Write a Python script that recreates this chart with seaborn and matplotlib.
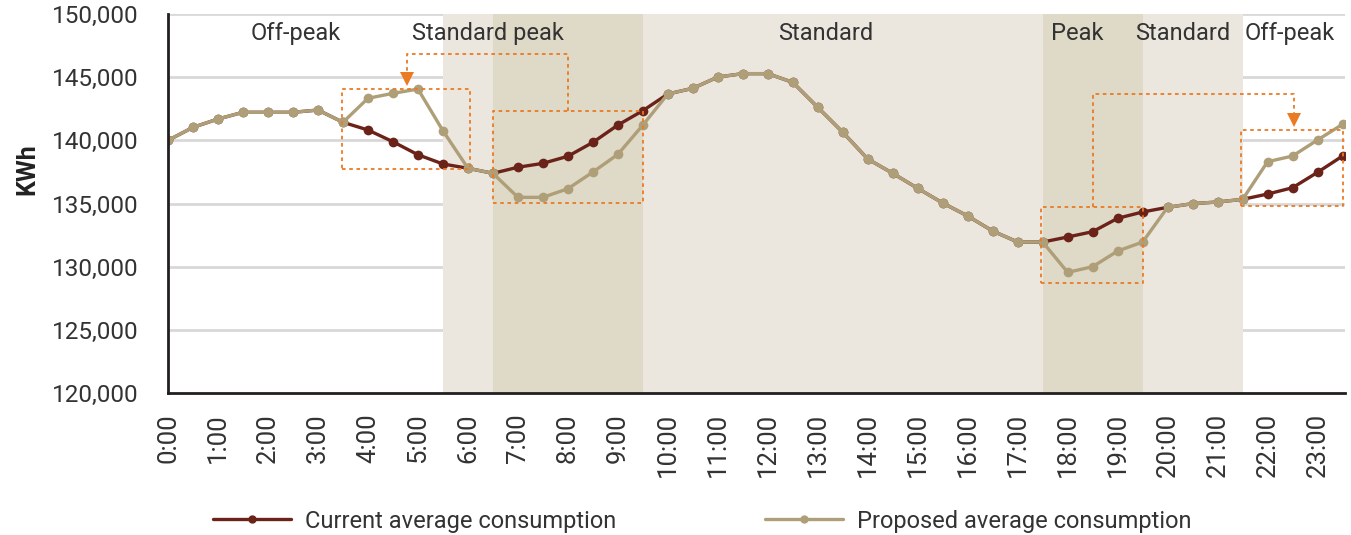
import numpy as np
import pandas as pd
import matplotlib
matplotlib.use("Agg")
import matplotlib.pyplot as plt
import seaborn as sns

# ---------- data ----------
hour_labels = ["0:00", "1:00", "2:00", "3:00", "4:00", "5:00", "6:00", "7:00",
               "8:00", "9:00", "10:00", "11:00", "12:00", "13:00", "14:00", "15:00",
               "16:00", "17:00", "18:00", "19:00", "20:00", "21:00", "22:00", "23:00"]

current = [140000, 141030, 141690, 142220, 142220, 142220, 142400, 141430,
           140820, 139890, 138860, 138130, 137790, 137390, 137870, 138180,
           138740, 139840, 141210, 142350, 143670, 144120, 145010, 145280,
           145280, 144590, 142610, 140640, 138520, 137390, 136200, 135040,
           134010, 132820, 131950, 131950, 132350, 132770, 133830, 134330,
           134700, 134990, 135120, 135330, 135750, 136250, 137470, 138760]

proposed = [140000, 141030, 141690, 142220, 142220, 142220, 142400, 141430,
            143330, 143720, 144060, 140760, 137790, 137390, 135490, 135490,
            136170, 137490, 138890, 141210, 143670, 144120, 145010, 145280,
            145280, 144590, 142610, 140640, 138520, 137390, 136200, 135040,
            134010, 132820, 131950, 131950, 129550, 130000, 131240, 131950,
            134700, 134990, 135120, 135330, 138310, 138760, 140030, 141270]

# tariff periods (slot index, half-hour units)
period_names = ["Off-peak", "Standard peak", "Standard", "Peak", "Standard", "Off-peak"]
period_label_x = [5.1, 12.8, 26.3, 36.4, 40.6, 44.9]
standard_span = (11, 43)
peak_spans = [(13, 19), (35, 39)]

# shifted-load boxes (x0, x1, y0, y1) and connectors
boxes = [(6.95, 12.1, 137730, 144060),
         (13.0, 19.0, 135020, 142320),
         (34.95, 39.0, 128690, 134700),
         (42.95, 47.0, 134800, 140820)]
connectors = [([16.0, 16.0, 9.55, 9.55], [142320, 146830, 146830, 145330]),
              ([37.0, 37.0, 45.05, 45.05], [134700, 143670, 143670, 142000])]
arrow_tips = [(9.55, 144890), (45.05, 141580)]

CUR_COLOR = "#6b2219"
PROP_COLOR = "#ae9f78"
ORANGE = "#ea7a24"
TEXT = "#333333"

# ---------- style ----------
sns.set_theme(style="white")
plt.rcParams["font.family"] = ["Roboto", "DejaVu Sans"]

n = len(current)
df = pd.DataFrame({
    "slot": list(range(n)) * 2,
    "kwh": current + proposed,
    "series": ["Current average consumption"] * n + ["Proposed average consumption"] * n,
})

fig = plt.figure(figsize=(13.51, 5.35), dpi=100)
ax = fig.add_axes([0.1244, 0.2654, 0.8712, 0.7084])

# background bands
ax.axvspan(*standard_span, color="#ebe7df", zorder=1, lw=0)
for a, b in peak_spans:
    ax.axvspan(a, b, color="#dfd9c7", zorder=1.1, lw=0)

for y in range(125000, 150001, 5000):
    ax.axhline(y, color="#d8d8d8", lw=2, zorder=0.5)

sns.lineplot(data=df, x="slot", y="kwh", hue="series",
             palette=[CUR_COLOR, PROP_COLOR], marker="o", markersize=7,
             markeredgewidth=0, linewidth=2.4, ax=ax, legend=False, zorder=3)

# orange dotted boxes + connectors
for x0, x1, y0, y1 in boxes:
    ax.plot([x0, x1, x1, x0, x0], [y0, y0, y1, y1, y0], color=ORANGE,
            lw=1.3, ls=(0, (2, 2)), zorder=4)
for xs, ys in connectors:
    ax.plot(xs, ys, color=ORANGE, lw=1.3, ls=(0, (2, 2)), zorder=4)
for x, y in arrow_tips:
    ax.plot([x], [y], marker="v", color=ORANGE, markersize=10, mew=0, zorder=5)

for name, x in zip(period_names, period_label_x):
    ax.text(x, 148450, name, ha="center", va="center", fontsize=17,
            color=TEXT, zorder=5)

ax.set_xlim(0, 47.1)
ax.set_ylim(120000, 150000)
ax.set_yticks(range(120000, 150001, 5000))
ax.set_yticklabels([f"{v:,}" for v in range(120000, 150001, 5000)])
ax.set_xticks(range(0, 48, 2))
ax.set_xticklabels(hour_labels, rotation=90)
ax.set_xticks(range(1, 48, 2), minor=True)
ax.tick_params(axis="both", which="both", direction="out", color="#231f20",
               width=1.5, length=6.5, labelcolor=TEXT)
ax.tick_params(axis="x", pad=8, labelsize=18.5)
ax.tick_params(axis="y", pad=15, labelsize=17.5)
ax.set_xlabel("")
ax.set_ylabel("")

for s in ["top", "right"]:
    ax.spines[s].set_visible(False)
for s in ["left", "bottom"]:
    ax.spines[s].set_color("#231f20")
    ax.spines[s].set_linewidth(2)
    ax.spines[s].set_zorder(6)

fig.text(27 / 1351, 1 - 169 / 535, "KWh", rotation=90, ha="center", va="center",
         fontsize=18, fontweight="bold", color="#222222")

handles = [plt.Line2D([], [], color=CUR_COLOR, lw=2.4, marker="o", markersize=5),
           plt.Line2D([], [], color=PROP_COLOR, lw=2.4, marker="o", markersize=5)]
fig.legend(handles, ["Current average consumption", "Proposed average consumption"],
           loc="center", bbox_to_anchor=(0.52, 0.026), ncol=2, frameon=False,
           fontsize=17, handlelength=3.3, columnspacing=6.3, handletextpad=0.6,
           labelcolor=TEXT)

fig.savefig("out.png", dpi=100)
